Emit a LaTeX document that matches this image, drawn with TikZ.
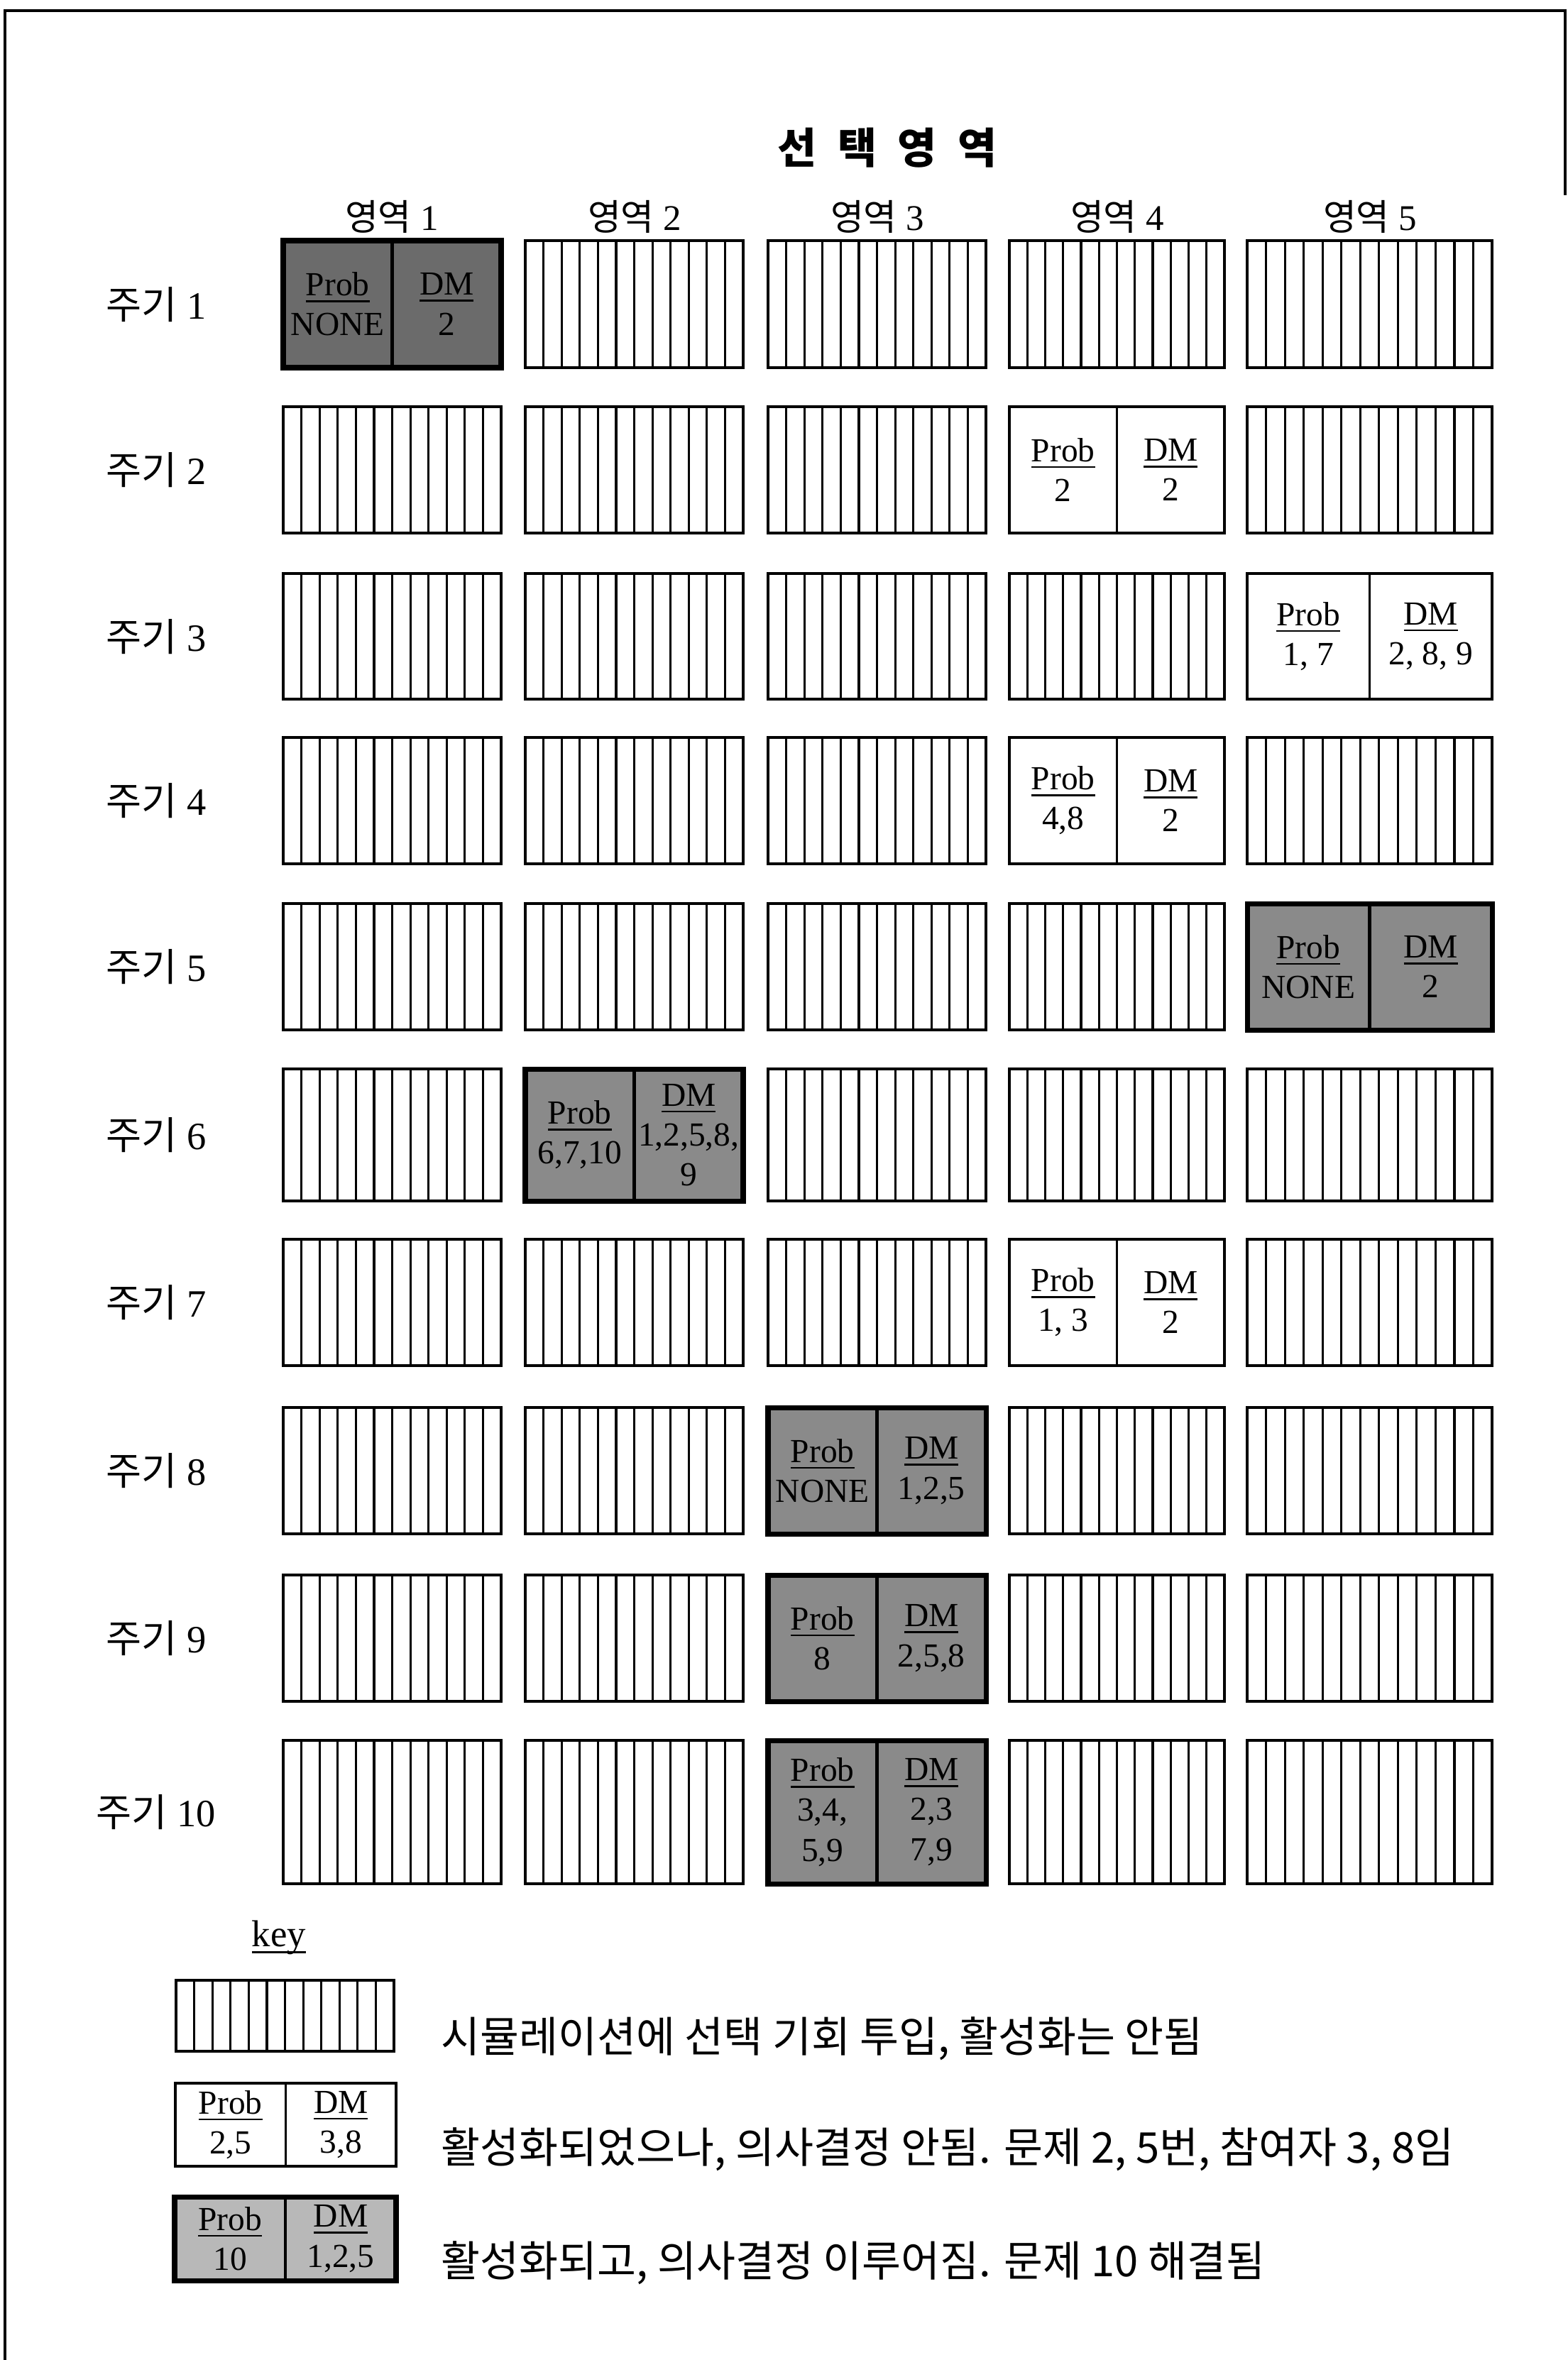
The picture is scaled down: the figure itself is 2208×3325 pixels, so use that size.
\documentclass[tikz,border=0pt]{standalone}
\usepackage{fontspec}
\setmainfont{Liberation Serif}
\newfontfamily\kr{Noto Sans CJK KR}
\definecolor{donedark}{gray}{0.42}
\definecolor{donemid}{gray}{0.54}
\definecolor{donelight}{gray}{0.72}

% word with a heavier rule under it
\newcommand{\lined}[1]{\setbox0\hbox{#1}\leavevmode\rlap{\rule[-2.6pt]{\wd0}{0.75pt}}\box0}
% striped cell: left, top, right, bottom, number of inner lines
\newcommand{\hatchcell}[5]{%
  \draw[hatchrim] (#1,#2) rectangle (#3,#4);
  \pgfmathsetmacro{\stripew}{(#3-#1)/(#5+1)}
  \foreach \k in {1,...,#5}
    \draw[stripe] ({#1+\k*\stripew},#2) -- ({#1+\k*\stripew},#4);
}
% active cell: name, kind, left, top, right, bottom, problems, makers
\newcommand{\actcell}[8]{%
  \draw[#2box] (#3,#4) rectangle (#5,#6);
  \draw[#2bar] ({(#3+#5)/2},#4) -- ({(#3+#5)/2},#6);
  \node[celltext] (#1p) at ({(3*#3+#5)/4},{(#4+#6)/2}) {\lined{Prob}\\#7};
  \node[celltext] (#1d) at ({(#3+3*#5)/4},{(#4+#6)/2}) {\lined{DM}\\#8};
}

\begin{document}
\begin{tikzpicture}[x=0.1mm, y=-0.1mm,
  frame/.style={line width=1.1pt},
  hatchrim/.style={line width=1.1pt},
  stripe/.style={line width=0.9pt},
  openbox/.style={draw, line width=1pt, fill=white},
  openbar/.style={line width=0.8pt},
  donebox/.style={draw, line width=2pt, fill=donemid},
  donebar/.style={line width=1.4pt},
  darkbox/.style={donebox, fill=donedark},
  darkbar/.style={donebar},
  lightbox/.style={donebox, fill=donelight},
  lightbar/.style={donebar},
  celltext/.style={align=center, inner sep=0pt, font=\fontsize{13.5}{16}\selectfont},
  rowlab/.style={font=\fontsize{15.5}{18}\selectfont},
  colhead/.style={font=\fontsize{14.5}{17}\selectfont},
  titletext/.style={font=\kr\bfseries\fontsize{17}{20}\selectfont},
  keylab/.style={font=\fontsize{15}{18}\selectfont},
  keytext/.style={anchor=west, inner sep=0pt, font=\kr\fontsize{17}{20}\selectfont}]
\useasboundingbox (0,0) rectangle (2208,3325);
\draw[frame] (7,3325) -- (7,15) -- (2205,15) -- (2205,275);

\node[titletext] (title) at (1250,208) {선\hspace{.5em}택\hspace{.5em}영\hspace{.5em}역};
\foreach \col/\xc in {1/552,2/894,3/1236,4/1574,5/1930}
  \node[colhead] (area\col) at (\xc,305) {{\kr 영역} \col};
\foreach \row/\yc in {1/429,2/662,3/897,4/1128,5/1362,6/1599,7/1835,8/2072,9/2308,10/2553}
  \node[rowlab] (cycle\row) at (220,\yc) {{\kr 주기} \row};

% idle cells
\foreach \row/\cols in {1/{2,3,4,5},2/{1,2,3,5},3/{1,2,3,4},4/{1,2,3,5},5/{1,2,3,4},
                        6/{1,3,4,5},7/{1,2,3,5},8/{1,2,4,5},9/{1,2,4,5},10/{1,2,4,5}} {
  \foreach \col in \cols {
    \pgfmathsetmacro{\cellL}{{399,740,1082,1422,1757}[\col-1]}
    \pgfmathsetmacro{\cellR}{{706,1047,1389,1725,2102}[\col-1]}
    \pgfmathsetmacro{\cellT}{{339,573,808,1039,1273,1506,1746,1983,2219,2452}[\row-1]}
    \pgfmathsetmacro{\cellB}{{518,751,985,1217,1451,1692,1924,2161,2397,2654}[\row-1]}
    \pgfmathtruncatemacro{\lines}{\col==5 ? 12 : 11}
    \hatchcell{\cellL}{\cellT}{\cellR}{\cellB}{\lines}
  }
}

% active cells
\actcell{a1}{dark}{399}{339}{706}{518}{NONE}{2}
\actcell{a2}{open}{1422}{573}{1725}{751}{2}{2}
\actcell{a3}{open}{1757}{808}{2102}{985}{1, 7}{2, 8, 9}
\actcell{a4}{open}{1422}{1039}{1725}{1217}{4,8}{2}
\actcell{a5}{done}{1757}{1273}{2102}{1451}{NONE}{2}
\actcell{a6}{done}{740}{1506}{1047}{1692}{6,7,10}{1,2,5,8,\\9}
\actcell{a7}{open}{1422}{1746}{1725}{1924}{1, 3}{2}
\actcell{a8}{done}{1082}{1983}{1389}{2161}{NONE}{1,2,5}
\actcell{a9}{done}{1082}{2219}{1389}{2397}{8}{2,5,8}
\actcell{a10}{done}{1082}{2452}{1389}{2654}{3,4,\\5,9}{2,3\\7,9}

% key
\node[keylab] (key) at (393,2730) {\lined{key}};
\hatchcell{248}{2790}{555}{2890}{11}
\actcell{k2}{open}{247}{2935}{558}{3052}{2,5}{3,8}
\actcell{k3}{light}{246}{3095}{558}{3213}{10}{1,2,5}
\node[keytext] (keyidle) at (621,2872) {시뮬레이션에 선택 기회 투입, 활성화는 안됨};
\node[keytext] (keyopen) at (621,3028) {활성화되었으나, 의사결정 안됨. 문제 2, 5번, 참여자 3, 8임};
\node[keytext] (keydone) at (621,3188) {활성화되고, 의사결정 이루어짐. 문제 10 해결됨};
\end{tikzpicture}
\end{document}
